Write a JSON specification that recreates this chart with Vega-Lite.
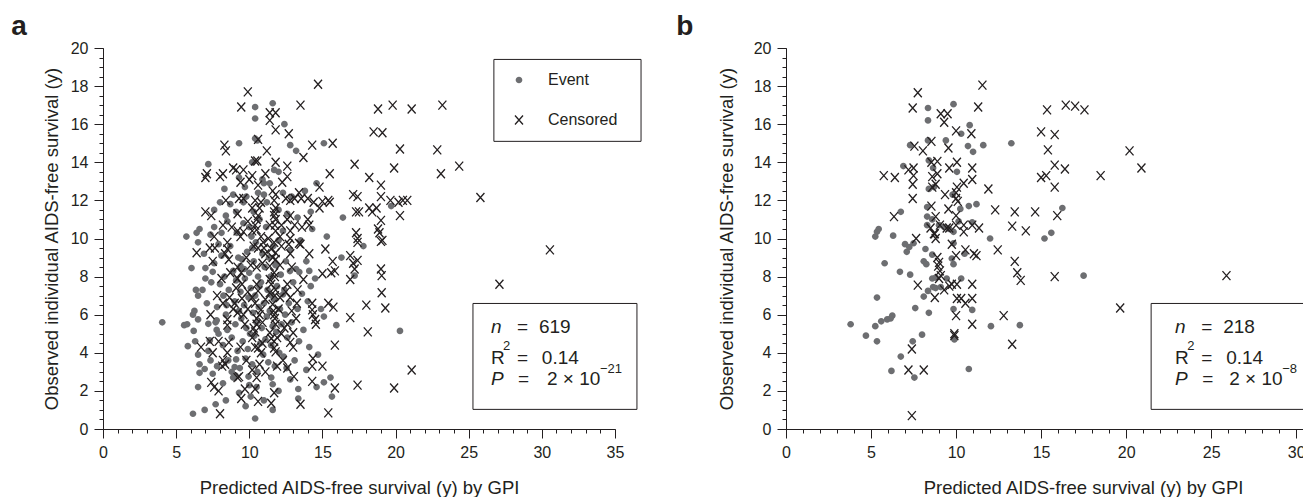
{
"$schema": "https://vega.github.io/schema/vega-lite/v6.json",
"padding": {"left": 11, "top": 13, "right": 0, "bottom": 0},
"config": {
  "font": "Liberation Sans",
  "view": {"stroke": null},
  "axis": {"grid": false, "domainColor": "#231f20", "tickColor": "#231f20", "labelColor": "#231f20", "titleColor": "#231f20", "labelFont": "Liberation Sans", "titleFont": "Liberation Sans", "labelFontSize": 16, "titleFontSize": 18.5, "titleFontWeight": "normal", "tickWidth": 1, "domainWidth": 1, "labelFlush": false, "labelOverlap": false},
  "legend": {"labelFont": "Liberation Sans", "labelColor": "#231f20"}
},
"datasets": {
"a": [
{"x":11.6,"y":17.1,"s":"E"},{"x":10.4,"y":16.9,"s":"E"},{"x":10.4,"y":16.3,"s":"E"},{"x":12.4,"y":16.0,"s":"E"},{"x":10.4,"y":15.25,"s":"E"},{"x":10.55,"y":15.15,"s":"E"},{"x":9.3,"y":15.0,"s":"E"},{"x":12.8,"y":14.9,"s":"E"},{"x":13.2,"y":14.6,"s":"E"},{"x":15.1,"y":15.0,"s":"E"},{"x":7.2,"y":13.9,"s":"E"},{"x":10.2,"y":14.0,"s":"E"},{"x":12.0,"y":13.5,"s":"E"},{"x":11.0,"y":12.9,"s":"E"},{"x":9.7,"y":12.7,"s":"E"},{"x":11.0,"y":12.3,"s":"E"},{"x":19.7,"y":11.7,"s":"E"},{"x":7.6,"y":11.5,"s":"E"},{"x":8.4,"y":11.2,"s":"E"},{"x":16.4,"y":11.1,"s":"E"},{"x":6.6,"y":10.5,"s":"E"},{"x":6.4,"y":10.3,"s":"E"},{"x":5.7,"y":10.1,"s":"E"},{"x":7.35,"y":10.2,"s":"E"},{"x":15.3,"y":10.1,"s":"E"},{"x":6.5,"y":9.8,"s":"E"},{"x":7.9,"y":9.7,"s":"E"},{"x":17.8,"y":9.6,"s":"E"},{"x":10.2,"y":9.5,"s":"E"},{"x":16.3,"y":9.0,"s":"E"},{"x":6.05,"y":8.45,"s":"E"},{"x":7.0,"y":8.45,"s":"E"},{"x":7.5,"y":8.25,"s":"E"},{"x":9.4,"y":8.55,"s":"E"},{"x":9.65,"y":8.4,"s":"E"},{"x":14.1,"y":8.3,"s":"E"},{"x":17.2,"y":8.05,"s":"E"},{"x":7.0,"y":7.9,"s":"E"},{"x":14.2,"y":7.5,"s":"E"},{"x":6.8,"y":7.3,"s":"E"},{"x":6.5,"y":7.0,"s":"E"},{"x":10.7,"y":7.5,"s":"E"},{"x":6.25,"y":6.2,"s":"E"},{"x":6.15,"y":6.0,"s":"E"},{"x":5.75,"y":5.5,"s":"E"},{"x":4.05,"y":5.6,"s":"E"},{"x":5.55,"y":5.45,"s":"E"},{"x":6.5,"y":5.75,"s":"E"},{"x":6.2,"y":5.15,"s":"E"},{"x":5.8,"y":4.35,"s":"E"},{"x":6.3,"y":4.6,"s":"E"},{"x":15.1,"y":5.9,"s":"E"},{"x":15.95,"y":5.45,"s":"E"},{"x":20.3,"y":5.15,"s":"E"},{"x":6.5,"y":3.9,"s":"E"},{"x":7.35,"y":3.6,"s":"E"},{"x":6.6,"y":3.4,"s":"E"},{"x":6.95,"y":3.15,"s":"E"},{"x":9.1,"y":3.65,"s":"E"},{"x":8.9,"y":2.7,"s":"E"},{"x":9.95,"y":2.75,"s":"E"},{"x":12.55,"y":3.2,"s":"E"},{"x":6.5,"y":2.2,"s":"E"},{"x":10.0,"y":2.3,"s":"E"},{"x":11.6,"y":2.35,"s":"E"},{"x":13.35,"y":2.1,"s":"E"},{"x":15.1,"y":2.45,"s":"E"},{"x":15.55,"y":2.7,"s":"E"},{"x":13.35,"y":1.6,"s":"E"},{"x":15.65,"y":1.7,"s":"E"},{"x":9.75,"y":1.2,"s":"E"},{"x":11.6,"y":1.0,"s":"E"},{"x":6.15,"y":0.8,"s":"E"},{"x":6.95,"y":1.0,"s":"E"},{"x":10.4,"y":0.55,"s":"E"},
{"x":6.35,"y":7.3,"s":"E"},{"x":6.6,"y":2.95,"s":"E"},{"x":7.3,"y":4.65,"s":"E"},{"x":7.77,"y":5.2,"s":"E"},{"x":7.2,"y":5.52,"s":"E"},{"x":7.77,"y":5.7,"s":"E"},{"x":8.45,"y":6.5,"s":"E"},{"x":8.23,"y":7.0,"s":"E"},{"x":9.0,"y":3.25,"s":"E"},{"x":8.56,"y":3.6,"s":"E"},{"x":9.06,"y":2.8,"s":"E"},{"x":10.5,"y":2.2,"s":"E"},{"x":11.5,"y":2.7,"s":"E"},{"x":13.42,"y":8.24,"s":"E"},{"x":12.78,"y":8.29,"s":"E"},{"x":12.3,"y":7.06,"s":"E"},
{"x":7.6,"y":8.7,"s":"E"},{"x":7.8,"y":6.4,"s":"E"},{"x":7.9,"y":5.0,"s":"E"},{"x":8.0,"y":7.6,"s":"E"},{"x":8.1,"y":9.1,"s":"E"},{"x":8.2,"y":4.4,"s":"E"},{"x":8.3,"y":8.0,"s":"E"},{"x":8.4,"y":6.0,"s":"E"},{"x":8.5,"y":5.2,"s":"E"},{"x":8.6,"y":7.3,"s":"E"},{"x":8.7,"y":9.6,"s":"E"},{"x":8.8,"y":4.8,"s":"E"},{"x":8.9,"y":8.3,"s":"E"},{"x":9.0,"y":6.7,"s":"E"},{"x":9.05,"y":5.5,"s":"E"},{"x":9.1,"y":7.8,"s":"E"},{"x":9.15,"y":10.3,"s":"E"},{"x":9.2,"y":4.1,"s":"E"},{"x":9.25,"y":9.0,"s":"E"},{"x":9.3,"y":6.2,"s":"E"},{"x":9.35,"y":3.2,"s":"E"},{"x":9.4,"y":7.2,"s":"E"},{"x":9.45,"y":5.8,"s":"E"},{"x":9.5,"y":8.9,"s":"E"},{"x":9.55,"y":4.6,"s":"E"},{"x":9.6,"y":10.8,"s":"E"},{"x":9.65,"y":6.5,"s":"E"},{"x":9.7,"y":7.9,"s":"E"},{"x":9.75,"y":3.7,"s":"E"},{"x":9.8,"y":5.3,"s":"E"},{"x":9.85,"y":9.3,"s":"E"},{"x":9.9,"y":4.2,"s":"E"},{"x":9.95,"y":6.9,"s":"E"},{"x":10.0,"y":8.2,"s":"E"},{"x":10.05,"y":5.0,"s":"E"},{"x":10.1,"y":7.4,"s":"E"},{"x":10.15,"y":10.1,"s":"E"},{"x":10.2,"y":3.4,"s":"E"},{"x":10.25,"y":6.1,"s":"E"},{"x":10.3,"y":8.8,"s":"E"},{"x":10.35,"y":4.9,"s":"E"},{"x":10.4,"y":7.0,"s":"E"},{"x":10.45,"y":9.8,"s":"E"},{"x":10.5,"y":5.6,"s":"E"},{"x":10.55,"y":3.0,"s":"E"},{"x":10.6,"y":8.0,"s":"E"},{"x":10.65,"y":6.4,"s":"E"},{"x":10.7,"y":11.0,"s":"E"},{"x":10.75,"y":4.5,"s":"E"},{"x":10.8,"y":7.7,"s":"E"},{"x":10.85,"y":5.3,"s":"E"},{"x":10.9,"y":9.2,"s":"E"},{"x":10.95,"y":3.9,"s":"E"},{"x":11.0,"y":6.6,"s":"E"},{"x":11.05,"y":8.5,"s":"E"},{"x":11.1,"y":4.7,"s":"E"},{"x":11.15,"y":10.6,"s":"E"},{"x":11.2,"y":5.9,"s":"E"},{"x":11.25,"y":7.3,"s":"E"},{"x":11.3,"y":3.5,"s":"E"},{"x":11.35,"y":9.0,"s":"E"},{"x":11.4,"y":6.2,"s":"E"},{"x":11.45,"y":8.0,"s":"E"},{"x":11.5,"y":4.4,"s":"E"},{"x":11.55,"y":7.0,"s":"E"},{"x":11.6,"y":5.4,"s":"E"},{"x":11.65,"y":9.6,"s":"E"},{"x":11.7,"y":6.8,"s":"E"},{"x":11.75,"y":3.3,"s":"E"},{"x":11.8,"y":8.6,"s":"E"},{"x":11.85,"y":5.1,"s":"E"},{"x":11.9,"y":7.5,"s":"E"},{"x":12.0,"y":9.9,"s":"E"},{"x":12.05,"y":4.0,"s":"E"},{"x":12.1,"y":6.3,"s":"E"},{"x":12.15,"y":8.1,"s":"E"},{"x":12.2,"y":5.5,"s":"E"},{"x":12.3,"y":10.4,"s":"E"},{"x":12.35,"y":3.8,"s":"E"},{"x":12.4,"y":7.3,"s":"E"},{"x":12.45,"y":6.0,"s":"E"},{"x":12.5,"y":8.8,"s":"E"},{"x":12.6,"y":4.8,"s":"E"},{"x":12.7,"y":6.6,"s":"E"},{"x":12.8,"y":9.4,"s":"E"},{"x":12.9,"y":5.6,"s":"E"},{"x":13.0,"y":7.7,"s":"E"},{"x":13.1,"y":3.6,"s":"E"},{"x":13.2,"y":8.4,"s":"E"},{"x":13.3,"y":6.3,"s":"E"},{"x":13.4,"y":4.6,"s":"E"},{"x":13.5,"y":9.9,"s":"E"},{"x":13.6,"y":7.1,"s":"E"},{"x":13.7,"y":5.2,"s":"E"},{"x":13.9,"y":8.8,"s":"E"},{"x":14.0,"y":6.7,"s":"E"},{"x":14.1,"y":4.3,"s":"E"},{"x":14.3,"y":10.5,"s":"E"},{"x":14.5,"y":7.9,"s":"E"},{"x":14.7,"y":3.9,"s":"E"},{"x":14.9,"y":6.3,"s":"E"},
{"x":6.9,"y":9.2,"s":"E"},{"x":7.1,"y":6.6,"s":"E"},{"x":7.2,"y":4.1,"s":"E"},{"x":7.4,"y":7.7,"s":"E"},{"x":7.5,"y":2.9,"s":"E"},{"x":7.6,"y":10.6,"s":"E"},{"x":7.7,"y":5.6,"s":"E"},{"x":7.8,"y":3.3,"s":"E"},{"x":8.0,"y":11.9,"s":"E"},{"x":8.1,"y":10.3,"s":"E"},{"x":8.2,"y":2.4,"s":"E"},{"x":8.3,"y":12.6,"s":"E"},{"x":8.5,"y":10.9,"s":"E"},{"x":8.7,"y":11.8,"s":"E"},{"x":8.8,"y":3.0,"s":"E"},{"x":8.9,"y":12.3,"s":"E"},{"x":9.1,"y":11.4,"s":"E"},{"x":9.3,"y":13.2,"s":"E"},{"x":9.6,"y":11.9,"s":"E"},{"x":9.8,"y":12.2,"s":"E"},{"x":10.0,"y":10.6,"s":"E"},{"x":10.3,"y":11.4,"s":"E"},{"x":10.6,"y":12.4,"s":"E"},{"x":10.9,"y":13.1,"s":"E"},{"x":11.2,"y":11.9,"s":"E"},{"x":11.4,"y":12.9,"s":"E"},{"x":11.7,"y":13.6,"s":"E"},{"x":12.0,"y":11.5,"s":"E"},{"x":12.3,"y":12.4,"s":"E"},{"x":12.6,"y":11.3,"s":"E"},{"x":12.9,"y":12.2,"s":"E"},{"x":13.3,"y":11.1,"s":"E"},{"x":13.8,"y":12.5,"s":"E"},{"x":14.2,"y":11.4,"s":"E"},{"x":14.6,"y":12.9,"s":"E"},{"x":10.1,"y":1.7,"s":"E"},{"x":11.0,"y":1.5,"s":"E"},{"x":12.0,"y":2.0,"s":"E"},{"x":12.8,"y":2.6,"s":"E"},{"x":9.3,"y":1.9,"s":"E"},{"x":8.4,"y":1.5,"s":"E"},{"x":7.7,"y":1.3,"s":"E"},{"x":13.9,"y":3.1,"s":"E"},{"x":14.6,"y":2.2,"s":"E"},
{"x":14.7,"y":18.1,"s":"C"},{"x":9.9,"y":17.7,"s":"C"},{"x":9.45,"y":16.9,"s":"C"},{"x":13.5,"y":17.0,"s":"C"},{"x":18.8,"y":16.8,"s":"C"},{"x":19.8,"y":17.0,"s":"C"},{"x":21.1,"y":16.8,"s":"C"},{"x":23.2,"y":17.0,"s":"C"},{"x":11.4,"y":16.6,"s":"C"},{"x":11.8,"y":16.6,"s":"C"},{"x":11.4,"y":16.2,"s":"C"},{"x":11.8,"y":15.7,"s":"C"},{"x":12.7,"y":15.5,"s":"C"},{"x":18.5,"y":15.6,"s":"C"},{"x":19.1,"y":15.55,"s":"C"},{"x":10.6,"y":15.2,"s":"C"},{"x":8.3,"y":14.9,"s":"C"},{"x":8.4,"y":14.6,"s":"C"},{"x":11.2,"y":14.6,"s":"C"},{"x":14.3,"y":14.9,"s":"C"},{"x":15.7,"y":15.0,"s":"C"},{"x":20.3,"y":14.7,"s":"C"},{"x":22.85,"y":14.65,"s":"C"},{"x":13.7,"y":14.25,"s":"C"},{"x":10.4,"y":14.07,"s":"C"},{"x":10.55,"y":14.07,"s":"C"},{"x":11.8,"y":14.0,"s":"C"},{"x":12.6,"y":13.8,"s":"C"},{"x":17.2,"y":13.9,"s":"C"},{"x":19.9,"y":13.7,"s":"C"},{"x":24.35,"y":13.8,"s":"C"},{"x":23.1,"y":13.4,"s":"C"},{"x":15.5,"y":13.4,"s":"C"},{"x":7.1,"y":13.4,"s":"C"},{"x":7.0,"y":13.2,"s":"C"},{"x":8.0,"y":13.25,"s":"C"},{"x":8.2,"y":13.4,"s":"C"},{"x":8.9,"y":13.7,"s":"C"},{"x":9.1,"y":13.6,"s":"C"},{"x":9.6,"y":13.6,"s":"C"},{"x":10.2,"y":13.3,"s":"C"},{"x":10.0,"y":13.1,"s":"C"},{"x":11.1,"y":13.4,"s":"C"},{"x":12.25,"y":12.95,"s":"C"},{"x":12.6,"y":13.25,"s":"C"},{"x":18.2,"y":13.2,"s":"C"},{"x":19.0,"y":12.8,"s":"C"},{"x":14.8,"y":12.7,"s":"C"},{"x":9.4,"y":12.95,"s":"C"},{"x":10.6,"y":12.8,"s":"C"},{"x":11.6,"y":12.5,"s":"C"},
{"x":8.4,"y":12.0,"s":"C"},{"x":9.3,"y":12.1,"s":"C"},{"x":9.6,"y":12.1,"s":"C"},{"x":10.4,"y":12.0,"s":"C"},{"x":10.8,"y":11.9,"s":"C"},{"x":11.7,"y":12.0,"s":"C"},{"x":12.5,"y":12.1,"s":"C"},{"x":12.8,"y":12.0,"s":"C"},{"x":13.1,"y":12.1,"s":"C"},{"x":13.55,"y":12.1,"s":"C"},{"x":14.4,"y":11.9,"s":"C"},{"x":15.0,"y":11.95,"s":"C"},{"x":15.4,"y":12.0,"s":"C"},{"x":15.5,"y":11.9,"s":"C"},{"x":17.1,"y":12.3,"s":"C"},{"x":17.4,"y":12.2,"s":"C"},{"x":19.0,"y":12.2,"s":"C"},{"x":19.65,"y":12.0,"s":"C"},{"x":20.2,"y":11.9,"s":"C"},{"x":20.5,"y":12.0,"s":"C"},{"x":20.8,"y":12.0,"s":"C"},{"x":25.8,"y":12.15,"s":"C"},
{"x":10.2,"y":11.6,"s":"C"},{"x":10.7,"y":11.6,"s":"C"},{"x":11.8,"y":11.6,"s":"C"},{"x":14.8,"y":11.6,"s":"C"},{"x":18.2,"y":11.6,"s":"C"},{"x":18.7,"y":11.6,"s":"C"},{"x":7.0,"y":11.4,"s":"C"},{"x":17.3,"y":11.4,"s":"C"},{"x":17.5,"y":11.4,"s":"C"},{"x":18.4,"y":11.4,"s":"C"},{"x":7.4,"y":11.2,"s":"C"},{"x":9.2,"y":11.3,"s":"C"},{"x":10.6,"y":11.2,"s":"C"},{"x":11.7,"y":11.2,"s":"C"},{"x":12.8,"y":11.2,"s":"C"},{"x":20.3,"y":11.2,"s":"C"},{"x":10.5,"y":11.0,"s":"C"},{"x":11.8,"y":11.0,"s":"C"},{"x":12.6,"y":11.0,"s":"C"},{"x":14.0,"y":11.0,"s":"C"},{"x":19.0,"y":10.95,"s":"C"},
{"x":8.2,"y":10.7,"s":"C"},{"x":10.4,"y":10.7,"s":"C"},{"x":11.4,"y":10.7,"s":"C"},{"x":12.2,"y":10.7,"s":"C"},{"x":13.1,"y":10.7,"s":"C"},{"x":13.6,"y":10.6,"s":"C"},{"x":14.1,"y":10.7,"s":"C"},{"x":18.8,"y":10.5,"s":"C"},{"x":9.2,"y":10.4,"s":"C"},{"x":9.6,"y":10.35,"s":"C"},{"x":10.2,"y":10.4,"s":"C"},{"x":10.5,"y":10.45,"s":"C"},{"x":11.8,"y":10.4,"s":"C"},{"x":12.8,"y":10.4,"s":"C"},{"x":17.3,"y":10.3,"s":"C"},{"x":18.9,"y":10.3,"s":"C"},{"x":7.6,"y":10.1,"s":"C"},{"x":9.4,"y":10.1,"s":"C"},{"x":10.8,"y":10.1,"s":"C"},{"x":11.3,"y":10.0,"s":"C"},{"x":12.1,"y":10.1,"s":"C"},{"x":12.8,"y":10.0,"s":"C"},{"x":17.4,"y":10.0,"s":"C"},{"x":19.1,"y":9.9,"s":"C"},
{"x":8.5,"y":9.8,"s":"C"},{"x":10.95,"y":9.8,"s":"C"},{"x":11.7,"y":9.8,"s":"C"},{"x":13.4,"y":9.75,"s":"C"},{"x":19.0,"y":9.85,"s":"C"},{"x":17.4,"y":9.8,"s":"C"},{"x":7.3,"y":9.5,"s":"C"},{"x":7.65,"y":9.5,"s":"C"},{"x":8.5,"y":9.45,"s":"C"},{"x":10.6,"y":9.5,"s":"C"},{"x":11.0,"y":9.5,"s":"C"},{"x":11.5,"y":9.45,"s":"C"},{"x":13.5,"y":9.7,"s":"C"},{"x":15.2,"y":9.45,"s":"C"},{"x":6.4,"y":9.25,"s":"C"},{"x":8.35,"y":9.2,"s":"C"},{"x":11.1,"y":9.2,"s":"C"},{"x":11.8,"y":9.25,"s":"C"},{"x":12.8,"y":9.2,"s":"C"},{"x":14.1,"y":9.2,"s":"C"},{"x":16.9,"y":9.1,"s":"C"},
{"x":8.6,"y":8.9,"s":"C"},{"x":11.8,"y":8.9,"s":"C"},{"x":15.7,"y":8.8,"s":"C"},{"x":17.4,"y":8.85,"s":"C"},{"x":17.1,"y":8.7,"s":"C"},{"x":9.2,"y":8.5,"s":"C"},{"x":10.5,"y":8.5,"s":"C"},{"x":11.4,"y":8.55,"s":"C"},{"x":12.9,"y":8.5,"s":"C"},{"x":17.2,"y":8.4,"s":"C"},{"x":19.0,"y":8.4,"s":"C"},{"x":9.45,"y":8.2,"s":"C"},{"x":11.7,"y":8.2,"s":"C"},{"x":15.0,"y":8.15,"s":"C"},{"x":15.6,"y":8.2,"s":"C"},{"x":15.85,"y":8.3,"s":"C"},{"x":19.05,"y":8.05,"s":"C"},{"x":8.1,"y":7.9,"s":"C"},{"x":9.2,"y":7.9,"s":"C"},{"x":11.4,"y":7.85,"s":"C"},{"x":13.7,"y":7.85,"s":"C"},{"x":16.9,"y":7.85,"s":"C"},
{"x":9.5,"y":7.6,"s":"C"},{"x":10.5,"y":7.6,"s":"C"},{"x":11.5,"y":7.6,"s":"C"},{"x":12.6,"y":7.6,"s":"C"},{"x":27.1,"y":7.6,"s":"C"},{"x":9.9,"y":7.2,"s":"C"},{"x":10.6,"y":7.25,"s":"C"},{"x":11.4,"y":7.15,"s":"C"},{"x":11.8,"y":7.3,"s":"C"},{"x":19.05,"y":7.15,"s":"C"},{"x":8.65,"y":6.9,"s":"C"},{"x":9.5,"y":6.85,"s":"C"},{"x":10.2,"y":6.9,"s":"C"},{"x":11.1,"y":6.8,"s":"C"},{"x":12.1,"y":6.9,"s":"C"},{"x":12.8,"y":6.9,"s":"C"},
{"x":9.0,"y":6.6,"s":"C"},{"x":10.4,"y":6.6,"s":"C"},{"x":11.6,"y":6.55,"s":"C"},{"x":13.25,"y":6.6,"s":"C"},{"x":14.3,"y":6.6,"s":"C"},{"x":15.4,"y":6.6,"s":"C"},{"x":18.0,"y":6.5,"s":"C"},{"x":19.3,"y":6.35,"s":"C"},{"x":8.9,"y":6.3,"s":"C"},{"x":9.9,"y":6.3,"s":"C"},{"x":10.8,"y":6.25,"s":"C"},{"x":12.0,"y":6.3,"s":"C"},{"x":14.3,"y":6.25,"s":"C"},{"x":15.75,"y":6.4,"s":"C"},{"x":7.35,"y":6.0,"s":"C"},{"x":9.6,"y":6.0,"s":"C"},{"x":10.7,"y":6.0,"s":"C"},{"x":11.7,"y":6.0,"s":"C"},{"x":14.35,"y":6.0,"s":"C"},
{"x":8.5,"y":5.75,"s":"C"},{"x":10.5,"y":5.8,"s":"C"},{"x":14.5,"y":5.75,"s":"C"},{"x":16.9,"y":5.85,"s":"C"},{"x":8.5,"y":5.45,"s":"C"},{"x":10.5,"y":5.5,"s":"C"},{"x":11.8,"y":5.5,"s":"C"},{"x":12.6,"y":5.5,"s":"C"},{"x":14.55,"y":5.5,"s":"C"},{"x":18.1,"y":5.1,"s":"C"},{"x":10.4,"y":5.1,"s":"C"},{"x":11.4,"y":5.05,"s":"C"},{"x":12.2,"y":5.0,"s":"C"},{"x":13.0,"y":5.05,"s":"C"},{"x":10.2,"y":4.8,"s":"C"},{"x":11.5,"y":4.75,"s":"C"},{"x":11.9,"y":4.8,"s":"C"},
{"x":7.3,"y":4.6,"s":"C"},{"x":7.9,"y":4.6,"s":"C"},{"x":8.6,"y":4.55,"s":"C"},{"x":12.8,"y":4.55,"s":"C"},{"x":6.7,"y":4.3,"s":"C"},{"x":9.4,"y":4.3,"s":"C"},{"x":10.4,"y":4.3,"s":"C"},{"x":10.6,"y":4.25,"s":"C"},{"x":11.7,"y":4.25,"s":"C"},{"x":15.85,"y":4.4,"s":"C"},{"x":7.5,"y":4.0,"s":"C"},{"x":8.5,"y":4.0,"s":"C"},{"x":10.8,"y":4.0,"s":"C"},{"x":11.8,"y":4.05,"s":"C"},{"x":8.2,"y":3.6,"s":"C"},{"x":12.3,"y":3.6,"s":"C"},{"x":14.35,"y":3.7,"s":"C"},{"x":8.15,"y":3.3,"s":"C"},{"x":8.35,"y":3.4,"s":"C"},{"x":14.3,"y":3.3,"s":"C"},{"x":15.0,"y":3.3,"s":"C"},
{"x":10.2,"y":3.1,"s":"C"},{"x":11.1,"y":3.0,"s":"C"},{"x":21.1,"y":3.1,"s":"C"},{"x":9.2,"y":2.7,"s":"C"},{"x":9.3,"y":2.75,"s":"C"},{"x":10.5,"y":2.7,"s":"C"},{"x":13.05,"y":2.75,"s":"C"},{"x":7.4,"y":2.45,"s":"C"},{"x":14.3,"y":2.5,"s":"C"},{"x":7.6,"y":2.2,"s":"C"},{"x":9.7,"y":2.1,"s":"C"},{"x":10.4,"y":2.1,"s":"C"},{"x":15.85,"y":2.15,"s":"C"},{"x":17.4,"y":2.3,"s":"C"},{"x":19.9,"y":2.15,"s":"C"},{"x":7.9,"y":2.0,"s":"C"},{"x":11.7,"y":1.9,"s":"C"},{"x":9.45,"y":1.6,"s":"C"},{"x":10.6,"y":1.45,"s":"C"},{"x":11.5,"y":1.35,"s":"C"},{"x":13.5,"y":1.3,"s":"C"},{"x":8.0,"y":0.8,"s":"C"},{"x":15.4,"y":0.85,"s":"C"},{"x":30.55,"y":9.4,"s":"C"},
{"x":9.8,"y":9.0,"s":"C"},{"x":10.3,"y":9.6,"s":"C"},{"x":10.9,"y":8.7,"s":"C"},{"x":11.75,"y":7.0,"s":"C"},{"x":11.65,"y":6.2,"s":"C"},{"x":11.75,"y":5.8,"s":"C"},{"x":11.7,"y":4.6,"s":"C"},{"x":11.75,"y":10.7,"s":"C"},{"x":11.7,"y":11.4,"s":"C"},{"x":11.8,"y":12.3,"s":"C"},{"x":11.6,"y":9.0,"s":"C"},{"x":11.75,"y":8.0,"s":"C"},{"x":12.2,"y":9.6,"s":"C"},{"x":12.5,"y":7.2,"s":"C"},{"x":12.9,"y":6.2,"s":"C"},{"x":13.2,"y":5.8,"s":"C"},{"x":12.4,"y":5.3,"s":"C"},{"x":10.9,"y":5.6,"s":"C"},{"x":10.3,"y":5.3,"s":"C"},{"x":9.7,"y":5.5,"s":"C"},{"x":9.2,"y":6.1,"s":"C"},{"x":9.1,"y":7.4,"s":"C"},{"x":8.7,"y":8.2,"s":"C"},{"x":8.2,"y":6.6,"s":"C"},{"x":7.8,"y":7.0,"s":"C"},{"x":7.5,"y":8.8,"s":"C"},{"x":8.8,"y":10.6,"s":"C"},{"x":9.9,"y":10.9,"s":"C"},{"x":10.1,"y":8.6,"s":"C"},{"x":12.1,"y":8.6,"s":"C"},{"x":12.7,"y":9.7,"s":"C"},{"x":13.3,"y":7.3,"s":"C"},{"x":13.0,"y":4.3,"s":"C"},{"x":10.9,"y":4.5,"s":"C"},{"x":9.8,"y":3.6,"s":"C"},{"x":10.7,"y":3.4,"s":"C"},{"x":11.9,"y":3.3,"s":"C"},{"x":12.6,"y":3.2,"s":"C"},{"x":13.4,"y":12.4,"s":"C"},{"x":14.0,"y":12.1,"s":"C"}
],
"b": [
{"x":9.85,"y":17.05,"s":"E"},{"x":8.35,"y":16.85,"s":"E"},{"x":8.35,"y":16.2,"s":"E"},{"x":10.8,"y":15.95,"s":"E"},{"x":10.3,"y":15.5,"s":"E"},{"x":8.35,"y":15.15,"s":"E"},{"x":9.4,"y":15.15,"s":"E"},{"x":7.3,"y":14.9,"s":"E"},{"x":10.7,"y":14.85,"s":"E"},{"x":11.6,"y":14.9,"s":"E"},{"x":11.0,"y":14.55,"s":"E"},{"x":13.25,"y":15.0,"s":"E"},{"x":8.4,"y":14.1,"s":"E"},{"x":6.9,"y":13.8,"s":"E"},{"x":8.65,"y":13.7,"s":"E"},{"x":10.05,"y":13.5,"s":"E"},{"x":8.4,"y":12.6,"s":"E"},{"x":9.8,"y":12.3,"s":"E"},{"x":8.3,"y":11.65,"s":"E"},{"x":10.25,"y":11.55,"s":"E"},{"x":10.75,"y":11.7,"s":"E"},{"x":11.2,"y":11.8,"s":"E"},{"x":6.75,"y":11.4,"s":"E"},{"x":8.3,"y":11.15,"s":"E"},{"x":8.6,"y":11.0,"s":"E"},{"x":8.3,"y":10.7,"s":"E"},{"x":10.15,"y":10.9,"s":"E"},{"x":10.95,"y":10.85,"s":"E"},{"x":5.45,"y":10.5,"s":"E"},{"x":5.35,"y":10.35,"s":"E"},{"x":5.25,"y":10.1,"s":"E"},{"x":6.3,"y":10.15,"s":"E"},{"x":9.85,"y":10.35,"s":"E"},{"x":12.0,"y":10.0,"s":"E"},{"x":15.2,"y":10.0,"s":"E"},{"x":15.6,"y":10.3,"s":"E"},{"x":16.25,"y":11.6,"s":"E"},{"x":7.0,"y":9.7,"s":"E"},{"x":7.5,"y":9.75,"s":"E"},{"x":7.1,"y":9.3,"s":"E"},{"x":7.25,"y":9.55,"s":"E"},{"x":8.2,"y":9.45,"s":"E"},{"x":8.6,"y":9.15,"s":"E"},{"x":9.85,"y":9.75,"s":"E"},{"x":9.75,"y":8.95,"s":"E"},{"x":9.85,"y":8.65,"s":"E"},{"x":8.1,"y":8.8,"s":"E"},{"x":8.25,"y":8.65,"s":"E"},{"x":5.8,"y":8.7,"s":"E"},{"x":6.7,"y":8.25,"s":"E"},{"x":7.3,"y":8.1,"s":"E"},{"x":8.6,"y":7.9,"s":"E"},{"x":8.8,"y":7.95,"s":"E"},{"x":9.45,"y":7.9,"s":"E"},{"x":8.65,"y":7.45,"s":"E"},{"x":8.35,"y":7.25,"s":"E"},{"x":8.8,"y":7.4,"s":"E"},{"x":9.1,"y":7.45,"s":"E"},{"x":10.3,"y":7.9,"s":"E"},{"x":8.1,"y":6.95,"s":"E"},{"x":7.6,"y":6.35,"s":"E"},{"x":8.4,"y":6.1,"s":"E"},{"x":9.85,"y":6.3,"s":"E"},{"x":10.95,"y":6.25,"s":"E"},{"x":5.35,"y":6.9,"s":"E"},{"x":6.25,"y":5.95,"s":"E"},{"x":6.15,"y":5.8,"s":"E"},{"x":5.95,"y":5.75,"s":"E"},{"x":5.6,"y":5.65,"s":"E"},{"x":5.25,"y":5.4,"s":"E"},{"x":3.8,"y":5.5,"s":"E"},{"x":4.7,"y":4.9,"s":"E"},{"x":5.35,"y":4.6,"s":"E"},{"x":7.45,"y":4.6,"s":"E"},{"x":8.0,"y":4.95,"s":"E"},{"x":9.9,"y":4.7,"s":"E"},{"x":12.05,"y":5.4,"s":"E"},{"x":13.75,"y":5.45,"s":"E"},{"x":6.75,"y":3.8,"s":"E"},{"x":6.2,"y":3.05,"s":"E"},{"x":7.55,"y":2.7,"s":"E"},{"x":10.75,"y":3.15,"s":"E"},{"x":17.5,"y":8.05,"s":"E"},{"x":10.5,"y":9.2,"s":"E"},{"x":9.0,"y":10.7,"s":"E"},{"x":9.3,"y":10.6,"s":"E"},{"x":8.7,"y":12.7,"s":"E"},{"x":9.6,"y":10.5,"s":"E"},
{"x":11.55,"y":18.05,"s":"C"},{"x":7.75,"y":17.65,"s":"C"},{"x":7.45,"y":16.85,"s":"C"},{"x":11.3,"y":16.9,"s":"C"},{"x":9.1,"y":16.55,"s":"C"},{"x":9.5,"y":16.55,"s":"C"},{"x":9.3,"y":16.1,"s":"C"},{"x":10.0,"y":15.65,"s":"C"},{"x":10.9,"y":15.5,"s":"C"},{"x":15.0,"y":15.6,"s":"C"},{"x":15.4,"y":14.65,"s":"C"},{"x":7.55,"y":14.85,"s":"C"},{"x":8.05,"y":14.6,"s":"C"},{"x":8.55,"y":15.1,"s":"C"},{"x":9.55,"y":14.75,"s":"C"},{"x":8.55,"y":14.0,"s":"C"},{"x":8.9,"y":14.05,"s":"C"},{"x":10.05,"y":14.0,"s":"C"},{"x":10.95,"y":13.7,"s":"C"},{"x":9.6,"y":13.7,"s":"C"},{"x":5.75,"y":13.3,"s":"C"},{"x":6.4,"y":13.2,"s":"C"},{"x":7.2,"y":13.6,"s":"C"},{"x":7.5,"y":13.7,"s":"C"},{"x":7.5,"y":13.3,"s":"C"},{"x":7.45,"y":12.85,"s":"C"},{"x":8.6,"y":13.25,"s":"C"},{"x":8.9,"y":13.4,"s":"C"},{"x":8.8,"y":12.85,"s":"C"},{"x":8.6,"y":12.7,"s":"C"},{"x":10.45,"y":12.9,"s":"C"},{"x":10.95,"y":13.1,"s":"C"},{"x":10.05,"y":12.7,"s":"C"},{"x":10.0,"y":12.4,"s":"C"},{"x":10.0,"y":12.1,"s":"C"},{"x":10.1,"y":11.95,"s":"C"},{"x":9.35,"y":12.3,"s":"C"},{"x":11.9,"y":12.6,"s":"C"},{"x":15.0,"y":13.2,"s":"C"},{"x":15.3,"y":13.3,"s":"C"},{"x":7.45,"y":12.1,"s":"C"},{"x":8.55,"y":11.7,"s":"C"},{"x":9.55,"y":11.55,"s":"C"},{"x":10.0,"y":11.2,"s":"C"},{"x":12.3,"y":11.5,"s":"C"},{"x":13.45,"y":11.4,"s":"C"},{"x":14.65,"y":11.4,"s":"C"},{"x":6.35,"y":11.15,"s":"C"},{"x":8.8,"y":11.15,"s":"C"},{"x":8.5,"y":10.55,"s":"C"},{"x":8.7,"y":10.25,"s":"C"},{"x":9.05,"y":10.7,"s":"C"},{"x":9.45,"y":10.55,"s":"C"},{"x":9.6,"y":10.55,"s":"C"},{"x":10.0,"y":10.7,"s":"C"},{"x":10.45,"y":10.7,"s":"C"},{"x":10.45,"y":10.35,"s":"C"},{"x":10.95,"y":10.7,"s":"C"},{"x":11.35,"y":10.55,"s":"C"},{"x":13.3,"y":10.65,"s":"C"},{"x":14.1,"y":10.4,"s":"C"},{"x":7.65,"y":10.0,"s":"C"},{"x":8.75,"y":10.25,"s":"C"},{"x":8.8,"y":10.0,"s":"C"},{"x":9.75,"y":9.7,"s":"C"},{"x":10.0,"y":9.1,"s":"C"},{"x":10.55,"y":9.4,"s":"C"},{"x":11.05,"y":9.2,"s":"C"},{"x":11.2,"y":9.1,"s":"C"},{"x":12.45,"y":9.4,"s":"C"},{"x":8.9,"y":9.0,"s":"C"},{"x":9.0,"y":8.75,"s":"C"},{"x":8.95,"y":8.55,"s":"C"},{"x":9.05,"y":8.3,"s":"C"},{"x":9.1,"y":8.05,"s":"C"},{"x":9.0,"y":7.9,"s":"C"},{"x":9.3,"y":7.3,"s":"C"},{"x":9.6,"y":7.5,"s":"C"},{"x":9.75,"y":7.6,"s":"C"},{"x":10.05,"y":7.6,"s":"C"},{"x":10.95,"y":7.6,"s":"C"},{"x":7.75,"y":7.55,"s":"C"},{"x":13.45,"y":8.8,"s":"C"},{"x":13.6,"y":8.2,"s":"C"},{"x":13.8,"y":7.8,"s":"C"},{"x":8.75,"y":6.9,"s":"C"},{"x":10.05,"y":6.85,"s":"C"},{"x":10.3,"y":6.85,"s":"C"},{"x":10.55,"y":6.6,"s":"C"},{"x":10.0,"y":5.95,"s":"C"},{"x":10.95,"y":6.85,"s":"C"},{"x":10.95,"y":5.5,"s":"C"},{"x":12.8,"y":5.95,"s":"C"},{"x":9.9,"y":5.0,"s":"C"},{"x":9.9,"y":4.9,"s":"C"},{"x":13.3,"y":4.45,"s":"C"},{"x":7.4,"y":4.2,"s":"C"},{"x":7.2,"y":3.1,"s":"C"},{"x":8.1,"y":3.1,"s":"C"},{"x":7.4,"y":0.7,"s":"C"},{"x":15.35,"y":16.75,"s":"C"},{"x":16.45,"y":17.0,"s":"C"},{"x":17.0,"y":16.95,"s":"C"},{"x":17.55,"y":16.75,"s":"C"},{"x":15.8,"y":15.45,"s":"C"},{"x":20.2,"y":14.6,"s":"C"},{"x":15.8,"y":13.85,"s":"C"},{"x":16.4,"y":13.65,"s":"C"},{"x":20.9,"y":13.7,"s":"C"},{"x":18.5,"y":13.3,"s":"C"},{"x":15.8,"y":12.7,"s":"C"},{"x":15.95,"y":11.2,"s":"C"},{"x":15.8,"y":8.0,"s":"C"},{"x":25.9,"y":8.05,"s":"C"},{"x":19.65,"y":6.35,"s":"C"}
]
},
"spacing": 171,
"bounds": "flush",
"resolve": {"scale": {"x": "independent", "y": "independent", "shape": "independent", "fill": "independent", "stroke": "independent"}},
"hconcat": [
{
  "width": 512, "height": 381,
  "title": {"text": "a", "anchor": "start", "frame": "bounds", "fontSize": 28, "fontWeight": "bold", "font": "Liberation Sans", "color": "#231f20", "dx": -31, "dy": 28, "offset": 5, "baseline": "alphabetic"},
  "resolve": {"axis": {"x": "independent", "y": "independent"}},
  "layer": [
    {"data": {"values": [{}]}, "mark": {"type": "point", "opacity": 0},
     "encoding": {
       "x": {"datum": 0, "type": "quantitative", "scale": {"domain": [0, 35], "nice": false}, "axis": {"orient": "bottom", "values": [0,1,2,3,4,5,6,7,8,9,10,11,12,13,14,15,16,17,18,19,20,21,22,23,24,25,26,27,28,29,30,31,32,33,34,35], "tickSize": 4, "labels": false, "domain": false, "title": null}},
       "y": {"datum": 0, "type": "quantitative", "scale": {"domain": [0, 20], "nice": false}, "axis": {"orient": "left", "values": [0,0.5,1,1.5,2,2.5,3,3.5,4,4.5,5,5.5,6,6.5,7,7.5,8,8.5,9,9.5,10,10.5,11,11.5,12,12.5,13,13.5,14,14.5,15,15.5,16,16.5,17,17.5,18,18.5,19,19.5,20], "tickSize": 4, "labels": false, "domain": false, "title": null}}
     }},
    {"data": {"values": [{}]}, "mark": {"type": "rect", "fill": "transparent", "stroke": "#231f20", "strokeWidth": 1},
     "encoding": {"x": {"datum": 26.72, "type": "quantitative", "axis": null}, "x2": {"datum": 36.78}, "y": {"datum": 19.4, "type": "quantitative", "axis": null}, "y2": {"datum": 15.1}}},
    {"data": {"values": [{}]}, "mark": {"type": "rect", "fill": "transparent", "stroke": "#231f20", "strokeWidth": 1},
     "encoding": {"x": {"datum": 25.29, "type": "quantitative", "axis": null}, "x2": {"datum": 36.5}, "y": {"datum": 6.59, "type": "quantitative", "axis": null}, "y2": {"datum": 1.03}}},
    {"data": {"name": "a"}, "mark": {"type": "point", "size": 100, "strokeWidth": 1.3, "opacity": 1},
     "encoding": {
       "x": {"field": "x", "type": "quantitative", "scale": {"domain": [0, 35], "nice": false}, "axis": {"orient": "bottom", "values": [0,5,10,15,20,25,30,35], "tickSize": 9, "labelPadding": 6, "title": "Predicted AIDS-free survival (y) by GPI", "titlePadding": 18}},
       "y": {"field": "y", "type": "quantitative", "scale": {"domain": [0, 20], "nice": false}, "axis": {"orient": "left", "values": [0,2,4,6,8,10,12,14,16,18,20], "tickSize": 9, "labelPadding": 6, "title": "Observed individual AIDS-free survival (y)", "titlePadding": 9}},
       "shape": {"field": "s", "type": "nominal", "scale": {"domain": ["E", "C"], "range": ["M0,-0.67A0.67,0.67,0,1,1,0,0.67A0.67,0.67,0,1,1,0,-0.67Z", "M-0.8,-0.9L0.8,0.9M0.8,-0.9L-0.8,0.9"]},
         "legend": {"orient": "none", "legendX": 408, "legendY": 24, "title": null, "labelFontSize": 16, "labelOffset": 21, "rowPadding": 24, "padding": 0, "symbolSize": 100, "symbolStrokeWidth": 1.3, "labelExpr": "datum.label == 'E' ? 'Event' : 'Censored'"}},
       "fill": {"field": "s", "type": "nominal", "scale": {"domain": ["E", "C"], "range": ["#6d6e71", "transparent"]}},
       "stroke": {"field": "s", "type": "nominal", "scale": {"domain": ["E", "C"], "range": ["transparent", "#231f20"]}}
     }},
    {"data": {"values": [{}]}, "mark": {"type": "text", "text": "n", "font": "Liberation Sans", "fontStyle": "italic", "fontSize": 19, "align": "left", "baseline": "middle", "color": "#231f20"},
     "encoding": {"x": {"datum": 26.52, "type": "quantitative", "axis": null}, "y": {"datum": 5.38, "type": "quantitative", "axis": null}}},
    {"data": {"values": [{}]}, "mark": {"type": "text", "text": "=", "font": "Liberation Sans", "fontSize": 19, "align": "left", "baseline": "middle", "color": "#231f20"},
     "encoding": {"x": {"datum": 28.3, "type": "quantitative", "axis": null}, "y": {"datum": 5.38, "type": "quantitative", "axis": null}}},
    {"data": {"values": [{}]}, "mark": {"type": "text", "text": "619", "font": "Liberation Sans", "fontSize": 19, "align": "left", "baseline": "middle", "color": "#231f20"},
     "encoding": {"x": {"datum": 29.8, "type": "quantitative", "axis": null}, "y": {"datum": 5.38, "type": "quantitative", "axis": null}}},
    {"data": {"values": [{}]}, "mark": {"type": "text", "text": "R", "font": "Liberation Sans", "fontSize": 19, "align": "left", "baseline": "middle", "color": "#231f20"},
     "encoding": {"x": {"datum": 26.52, "type": "quantitative", "axis": null}, "y": {"datum": 3.75, "type": "quantitative", "axis": null}}},
    {"data": {"values": [{}]}, "mark": {"type": "text", "text": "2", "font": "Liberation Sans", "fontSize": 13, "align": "left", "baseline": "middle", "color": "#231f20"},
     "encoding": {"x": {"datum": 27.35, "type": "quantitative", "axis": null}, "y": {"datum": 4.38, "type": "quantitative", "axis": null}}},
    {"data": {"values": [{}]}, "mark": {"type": "text", "text": "=", "font": "Liberation Sans", "fontSize": 19, "align": "left", "baseline": "middle", "color": "#231f20"},
     "encoding": {"x": {"datum": 28.3, "type": "quantitative", "axis": null}, "y": {"datum": 3.75, "type": "quantitative", "axis": null}}},
    {"data": {"values": [{}]}, "mark": {"type": "text", "text": "0.14", "font": "Liberation Sans", "fontSize": 19, "align": "left", "baseline": "middle", "color": "#231f20"},
     "encoding": {"x": {"datum": 30.0, "type": "quantitative", "axis": null}, "y": {"datum": 3.75, "type": "quantitative", "axis": null}}},
    {"data": {"values": [{}]}, "mark": {"type": "text", "text": "P", "font": "Liberation Sans", "fontStyle": "italic", "fontSize": 19, "align": "left", "baseline": "middle", "color": "#231f20"},
     "encoding": {"x": {"datum": 26.52, "type": "quantitative", "axis": null}, "y": {"datum": 2.65, "type": "quantitative", "axis": null}}},
    {"data": {"values": [{}]}, "mark": {"type": "text", "text": "=", "font": "Liberation Sans", "fontSize": 19, "align": "left", "baseline": "middle", "color": "#231f20"},
     "encoding": {"x": {"datum": 28.37, "type": "quantitative", "axis": null}, "y": {"datum": 2.65, "type": "quantitative", "axis": null}}},
    {"data": {"values": [{}]}, "mark": {"type": "text", "text": "2 × 10", "font": "Liberation Sans", "fontSize": 19, "align": "left", "baseline": "middle", "color": "#231f20"},
     "encoding": {"x": {"datum": 30.35, "type": "quantitative", "axis": null}, "y": {"datum": 2.65, "type": "quantitative", "axis": null}}},
    {"data": {"values": [{}]}, "mark": {"type": "text", "text": "−21", "font": "Liberation Sans", "fontSize": 13, "align": "left", "baseline": "middle", "color": "#231f20"},
     "encoding": {"x": {"datum": 33.97, "type": "quantitative", "axis": null}, "y": {"datum": 3.17, "type": "quantitative", "axis": null}}}
  ]
},
{
  "width": 517, "height": 381,
  "title": {"text": "b", "anchor": "start", "frame": "bounds", "fontSize": 28, "fontWeight": "bold", "font": "Liberation Sans", "color": "#231f20", "dx": -41, "dy": 28, "offset": 5, "baseline": "alphabetic"},
  "resolve": {"axis": {"x": "independent", "y": "independent"}},
  "layer": [
    {"data": {"values": [{}]}, "mark": {"type": "point", "opacity": 0},
     "encoding": {
       "x": {"datum": 0, "type": "quantitative", "scale": {"domain": [0, 30.4], "nice": false}, "axis": {"orient": "bottom", "values": [0,1,2,3,4,5,6,7,8,9,10,11,12,13,14,15,16,17,18,19,20,21,22,23,24,25,26,27,28,29,30], "tickSize": 4, "labels": false, "domain": false, "title": null}},
       "y": {"datum": 0, "type": "quantitative", "scale": {"domain": [0, 20], "nice": false}, "axis": {"orient": "left", "values": [0,0.5,1,1.5,2,2.5,3,3.5,4,4.5,5,5.5,6,6.5,7,7.5,8,8.5,9,9.5,10,10.5,11,11.5,12,12.5,13,13.5,14,14.5,15,15.5,16,16.5,17,17.5,18,18.5,19,19.5,20], "tickSize": 4, "labels": false, "domain": false, "title": null}}
     }},
    {"data": {"values": [{}]}, "mark": {"type": "rect", "fill": "transparent", "stroke": "#231f20", "strokeWidth": 1, "clip": true},
     "encoding": {"x": {"datum": 21.47, "type": "quantitative", "axis": null}, "x2": {"datum": 31}, "y": {"datum": 6.59, "type": "quantitative", "axis": null}, "y2": {"datum": 1.03}}},
    {"data": {"name": "b"}, "mark": {"type": "point", "size": 100, "strokeWidth": 1.3, "opacity": 1},
     "encoding": {
       "x": {"field": "x", "type": "quantitative", "scale": {"domain": [0, 30.4], "nice": false}, "axis": {"orient": "bottom", "values": [0,5,10,15,20,25,30], "tickSize": 9, "labelPadding": 6, "title": "Predicted AIDS-free survival (y) by GPI", "titlePadding": 18, "titleX": 297, "titleAlign": "center"}},
       "y": {"field": "y", "type": "quantitative", "scale": {"domain": [0, 20], "nice": false}, "axis": {"orient": "left", "values": [0,2,4,6,8,10,12,14,16,18,20], "tickSize": 9, "labelPadding": 6, "title": "Observed individual AIDS-free survival (y)", "titlePadding": 17}},
       "shape": {"field": "s", "type": "nominal", "scale": {"domain": ["E", "C"], "range": ["M0,-0.67A0.67,0.67,0,1,1,0,0.67A0.67,0.67,0,1,1,0,-0.67Z", "M-0.8,-0.9L0.8,0.9M0.8,-0.9L-0.8,0.9"]}, "legend": null},
       "fill": {"field": "s", "type": "nominal", "scale": {"domain": ["E", "C"], "range": ["#6d6e71", "transparent"]}, "legend": null},
       "stroke": {"field": "s", "type": "nominal", "scale": {"domain": ["E", "C"], "range": ["transparent", "#231f20"]}, "legend": null}
     }},
    {"data": {"values": [{}]}, "mark": {"type": "text", "text": "n", "font": "Liberation Sans", "fontStyle": "italic", "fontSize": 19, "align": "left", "baseline": "middle", "color": "#231f20", "clip": true},
     "encoding": {"x": {"datum": 22.88, "type": "quantitative", "axis": null}, "y": {"datum": 5.38, "type": "quantitative", "axis": null}}},
    {"data": {"values": [{}]}, "mark": {"type": "text", "text": "=", "font": "Liberation Sans", "fontSize": 19, "align": "left", "baseline": "middle", "color": "#231f20", "clip": true},
     "encoding": {"x": {"datum": 24.41, "type": "quantitative", "axis": null}, "y": {"datum": 5.38, "type": "quantitative", "axis": null}}},
    {"data": {"values": [{}]}, "mark": {"type": "text", "text": "218", "font": "Liberation Sans", "fontSize": 19, "align": "left", "baseline": "middle", "color": "#231f20", "clip": true},
     "encoding": {"x": {"datum": 25.71, "type": "quantitative", "axis": null}, "y": {"datum": 5.38, "type": "quantitative", "axis": null}}},
    {"data": {"values": [{}]}, "mark": {"type": "text", "text": "R", "font": "Liberation Sans", "fontSize": 19, "align": "left", "baseline": "middle", "color": "#231f20", "clip": true},
     "encoding": {"x": {"datum": 22.88, "type": "quantitative", "axis": null}, "y": {"datum": 3.75, "type": "quantitative", "axis": null}}},
    {"data": {"values": [{}]}, "mark": {"type": "text", "text": "2", "font": "Liberation Sans", "fontSize": 13, "align": "left", "baseline": "middle", "color": "#231f20", "clip": true},
     "encoding": {"x": {"datum": 23.6, "type": "quantitative", "axis": null}, "y": {"datum": 4.38, "type": "quantitative", "axis": null}}},
    {"data": {"values": [{}]}, "mark": {"type": "text", "text": "=", "font": "Liberation Sans", "fontSize": 19, "align": "left", "baseline": "middle", "color": "#231f20", "clip": true},
     "encoding": {"x": {"datum": 24.41, "type": "quantitative", "axis": null}, "y": {"datum": 3.75, "type": "quantitative", "axis": null}}},
    {"data": {"values": [{}]}, "mark": {"type": "text", "text": "0.14", "font": "Liberation Sans", "fontSize": 19, "align": "left", "baseline": "middle", "color": "#231f20", "clip": true},
     "encoding": {"x": {"datum": 25.88, "type": "quantitative", "axis": null}, "y": {"datum": 3.75, "type": "quantitative", "axis": null}}},
    {"data": {"values": [{}]}, "mark": {"type": "text", "text": "P", "font": "Liberation Sans", "fontStyle": "italic", "fontSize": 19, "align": "left", "baseline": "middle", "color": "#231f20", "clip": true},
     "encoding": {"x": {"datum": 22.88, "type": "quantitative", "axis": null}, "y": {"datum": 2.65, "type": "quantitative", "axis": null}}},
    {"data": {"values": [{}]}, "mark": {"type": "text", "text": "=", "font": "Liberation Sans", "fontSize": 19, "align": "left", "baseline": "middle", "color": "#231f20", "clip": true},
     "encoding": {"x": {"datum": 24.47, "type": "quantitative", "axis": null}, "y": {"datum": 2.65, "type": "quantitative", "axis": null}}},
    {"data": {"values": [{}]}, "mark": {"type": "text", "text": "2 × 10", "font": "Liberation Sans", "fontSize": 19, "align": "left", "baseline": "middle", "color": "#231f20", "clip": true},
     "encoding": {"x": {"datum": 26.06, "type": "quantitative", "axis": null}, "y": {"datum": 2.65, "type": "quantitative", "axis": null}}},
    {"data": {"values": [{}]}, "mark": {"type": "text", "text": "−8", "font": "Liberation Sans", "fontSize": 13, "align": "left", "baseline": "middle", "color": "#231f20", "clip": true},
     "encoding": {"x": {"datum": 29.18, "type": "quantitative", "axis": null}, "y": {"datum": 3.17, "type": "quantitative", "axis": null}}}
  ]
}
]
}
